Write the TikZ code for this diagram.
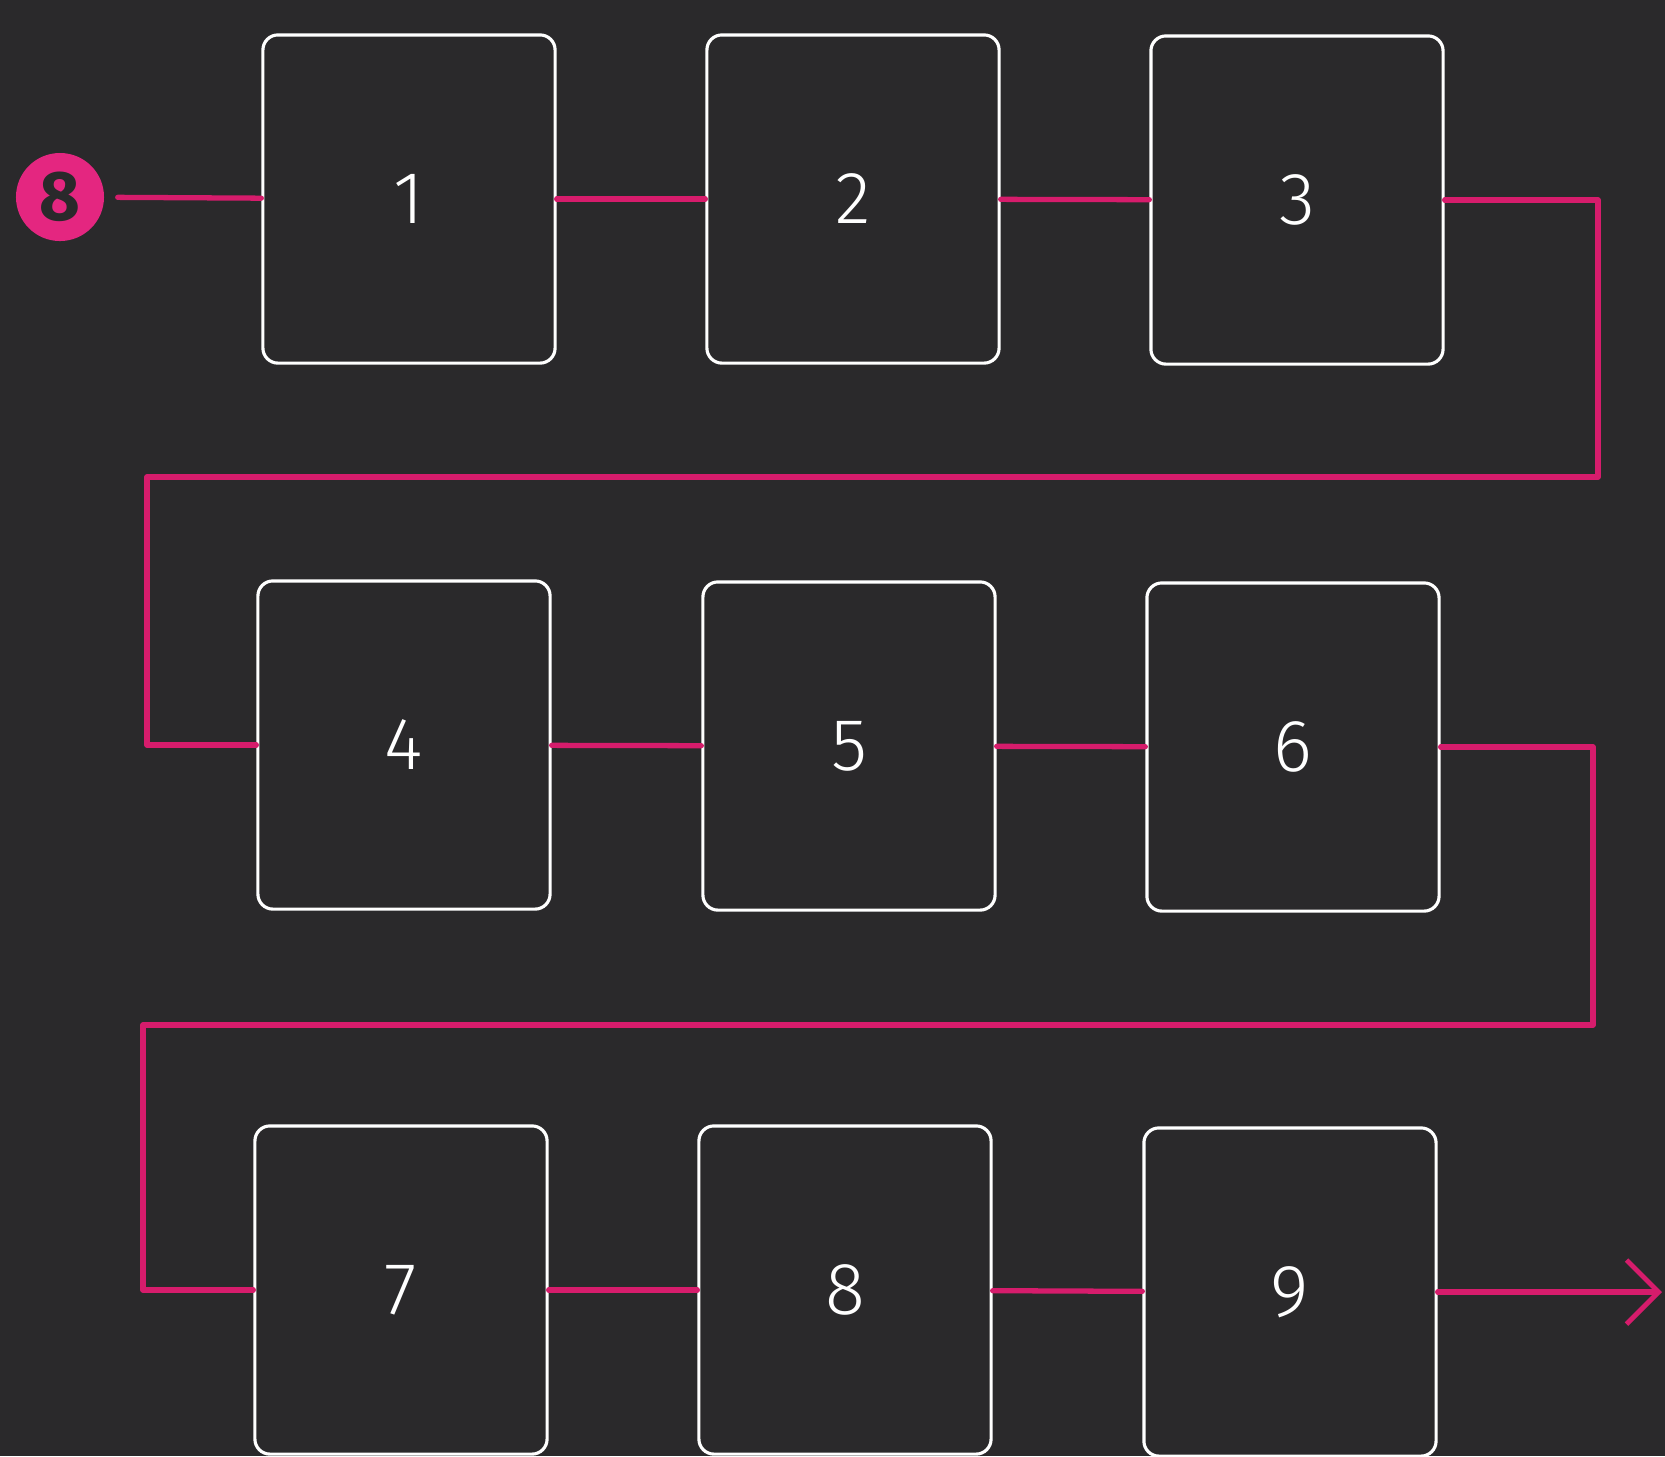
\documentclass[tikz,border=0pt]{standalone}
\usepackage{fontspec}
\usepackage{tikz}
\usetikzlibrary{arrows.meta}
\newfontfamily\boxfont{Fira Sans Light}
\newfontfamily\dotfont{Fira Sans}
\definecolor{fond}{RGB}{42,41,43}
\definecolor{rose}{RGB}{214,28,108}
\definecolor{roseclair}{RGB}{228,38,128}

\begin{document}
\begin{tikzpicture}[line cap=round,line join=round,>={Straight Barb[length=0.32cm,width=0.64cm,line width=1.4pt]},x=0.01cm,y=-0.01cm,
	case/.style={draw=white,line width=0.9pt,rounded corners=0.15cm,minimum width=2.92cm,minimum height=3.28cm,inner sep=0pt,text=white,font=\boxfont\fontsize{21}{24}\selectfont},
	lien/.style={draw=rose,line width=1.5pt},
	depart/.style={circle,fill=roseclair,minimum size=0.88cm,inner sep=0pt,text=fond,font=\dotfont\bfseries\fontsize{20}{22}\selectfont}]
			\fill[fond] (0,0) rectangle (1665,1456);
			\useasboundingbox (0,0) rectangle (1665,1456);
			%cases
			\node[case] (b1) at (409,199) {1};
			\node[case] (b2) at (853,199) {2};
			\node[case] (b3) at (1297,200) {3};
			\node[case] (b4) at (404,745) {4};
			\node[case] (b5) at (849,746) {5};
			\node[case] (b6) at (1293,747) {6};
			\node[case] (b7) at (401,1290) {7};
			\node[case] (b8) at (845,1290) {8};
			\node[case] (b9) at (1290,1292) {9};
			\node[depart] (s) at (60,197) {8};
			%coins
			\coordinate (t1) at (1598,477);
			\coordinate (t2) at (147,477);
			\coordinate (t3) at (1593,1025);
			\coordinate (t4) at (143,1025);
			\coordinate (fin) at (1662,1292);
			%liaisons
			\draw[lien,shorten <=0.13cm] (s) -- (b1);
			\draw[lien] (b1) -- (b2);
			\draw[lien] (b2) -- (b3);
			\draw[lien] (b3) -| (t1) -- (t2) |- (b4);
			\draw[lien] (b4) -- (b5);
			\draw[lien] (b5) -- (b6);
			\draw[lien] (b6) -| (t3) -- (t4) |- (b7);
			\draw[lien] (b7) -- (b8);
			\draw[lien] (b8) -- (b9);
			\draw[lien,->] (b9) -- (fin);
\end{tikzpicture}
\end{document}
